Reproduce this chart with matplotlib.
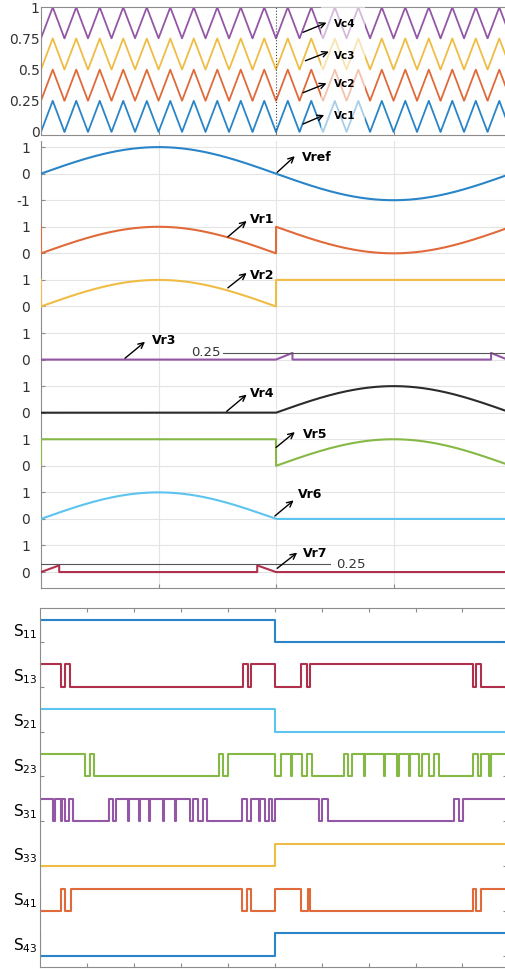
import matplotlib
matplotlib.use('Agg')
import matplotlib.pyplot as plt
import numpy as np

# time axis: one reference period spans 4 units
T_END = 3.957
t = np.linspace(0, T_END, 4000)

# ---- carriers ----
carrier_names = ['Vc1', 'Vc2', 'Vc3', 'Vc4']
carrier_offsets = [0.0, 0.25, 0.5, 0.75]
carrier_height = 0.25
carrier_period = 0.2
carrier_colors = ['#2a85c8', '#e06a3a', '#efbd45', '#9457a6']
carrier_ticks = [0, 0.25, 0.5, 0.75, 1]
carrier_ticklabels = ['0', '0.25', '0.5', '0.75', '1']

# ---- reference signals (value 0..1 each, stacked) ----
ref_names = ['Vref', 'Vr1', 'Vr2', 'Vr3', 'Vr4', 'Vr5', 'Vr6', 'Vr7']
ref_colors = ['#2a85c8', '#e06a3a', '#efbd45', '#9457a6', '#2b2b2b',
              '#86b845', '#5cc4ee', '#b0304c']
ref_base = [15, 12, 10, 8, 6, 4, 2, 0]
ref_yticklabels = ['0', '1', '0', '1', '0', '1', '0', '1', '0',
                   '1', '0', '1', '0', '1', '-1', '0', '1']

# Vr3 / Vr7 are piecewise linear, clipped at 0.25
vr3_t = [0, 2.0, 2.14, 2.14, 3.83, 3.83, 3.957]
vr3_v = [0, 0, 0.25, 0, 0, 0.25, 0.02]
vr7_t = [0, 0.155, 0.155, 1.84, 1.84, 2.0, 3.957]
vr7_v = [0, 0.25, 0, 0, 0.25, 0, 0]

# ---- gate signals: start level and toggle times ----
sw_names = ['11', '13', '21', '23', '31', '33', '41', '43']
sw_colors = ['#2a85c8', '#b0304c', '#5cc4ee', '#86b845', '#9457a6',
             '#efbd45', '#e06a3a', '#2a85c8']
sw_start = [0, 0, 0, 0, 0, 1, 1, 1]
sw_edges = [
    [0.0, 2.0],
    [0.0, 0.183, 0.212, 0.254, 1.726, 1.775, 1.80, 2.0, 2.228, 2.274, 2.302,
     3.691, 3.719, 3.762],
    [0.0, 2.0],
    [0.0, 0.380, 0.423, 0.462, 1.529, 1.563, 1.606, 2.0, 2.057, 2.137, 2.146,
     2.233, 2.276, 2.319, 2.590, 2.627, 2.661, 2.761, 2.770, 2.932, 2.941,
     3.046, 3.055, 3.146, 3.155, 3.231, 3.259, 3.317, 3.360, 3.402, 3.687,
     3.730, 3.759, 3.830, 3.839],
    [0.0, 0.109, 0.129, 0.183, 0.189, 0.214, 0.243, 0.280, 0.586, 0.622,
     0.651, 0.747, 0.756, 0.846, 0.855, 0.932, 0.941, 1.046, 1.055, 1.146,
     1.155, 1.279, 1.307, 1.350, 1.386, 1.421, 1.720, 1.763, 1.800, 1.863,
     1.872, 1.920, 1.954, 1.977, 2.0, 2.379, 2.407, 2.450, 3.528, 3.568,
     3.605],
    [0.0, 2.0],
    [0.0, 0.183, 0.212, 0.26, 1.723, 1.766, 1.794, 2.0, 2.228, 2.28, 2.30,
     3.691, 3.719, 3.762],
    [0.0, 2.0],
]

grey = '#8c8c8c'
label_grey = '#333333'


def pulse_train(edges, start):
    ts, vs = [0.0], [start]
    level = start
    for e in edges:
        ts += [e, e]
        vs += [level, 1 - level]
        level = 1 - level
    ts.append(T_END)
    vs.append(level)
    return np.array(ts), np.array(vs)


def arrow(ax, tail, head, fs, name, text_xy):
    ax.annotate('', xy=head, xytext=tail,
                arrowprops=dict(arrowstyle='->', color='black', lw=1.0,
                                shrinkA=0, shrinkB=0), zorder=6)
    ax.text(text_xy[0], text_xy[1], name, fontsize=fs, fontweight='bold',
            ha='left', va='center', zorder=6)


fig = plt.figure(figsize=(5.06, 9.69), dpi=100)

# ================= carriers =================
ax1 = fig.add_axes([0.0810, 0.8607, 0.9190, 0.1321])
phase = t / carrier_period
tri = 2 * np.abs(phase - np.floor(phase + 0.5))
for off, col in zip(carrier_offsets, carrier_colors):
    ax1.plot(t, off + carrier_height * tri, color=col, lw=1.3)
ax1.axvline(2.0, color='#444444', lw=0.8, ls=':')
ax1.axvspan(2.38, 2.76, color='white', alpha=0.6, lw=0, zorder=3)
ax1.set_xlim(0, T_END)
ax1.set_ylim(-0.024, 1.002)
ax1.set_yticks(carrier_ticks)
ax1.set_yticklabels(carrier_ticklabels)
ax1.set_xticks([1, 2, 3])
ax1.set_xticklabels([])
ax1.tick_params(axis='y', length=0, pad=1, labelsize=10, labelcolor=label_grey)
ax1.tick_params(axis='x', direction='in', length=3, color=grey)
for s in ['left', 'top', 'bottom']:
    ax1.spines[s].set_color(grey)
ax1.spines['right'].set_visible(False)

# label positions (time, value)
vc_tails = [(2.23, 0.064), (2.23, 0.315), (2.25, 0.571), (2.23, 0.799)]
vc_heads = [(2.41, 0.136), (2.43, 0.390), (2.45, 0.644), (2.43, 0.876)]
vc_text = [(2.49, 0.128), (2.49, 0.385), (2.49, 0.612), (2.49, 0.865)]
for name, tl, hd, tx in zip(carrier_names, vc_tails, vc_heads, vc_text):
    arrow(ax1, tl, hd, 7.5, name, tx)

# ================= references =================
ax2 = fig.add_axes([0.0810, 0.3932, 0.9190, 0.4613])
s = np.sin(np.pi * t / 2)
first = t < 2
refs = [
    s,
    np.where(first, s, 1 + s),
    np.where(first, s, 1.0),
    None,
    np.where(first, 0.0, -s),
    np.where(first, 1.0, -s),
    np.where(first, s, 0.0),
    None,
]
for i, (name, col, base) in enumerate(zip(ref_names, ref_colors, ref_base)):
    if name == 'Vr3':
        xs, ys = np.array(vr3_t), np.array(vr3_v)
    elif name == 'Vr7':
        xs, ys = np.array(vr7_t), np.array(vr7_v)
    else:
        xs, ys = t, refs[i]
        if name in ('Vr1', 'Vr2'):
            xs, ys = np.r_[0, xs], np.r_[1, ys]
        elif name == 'Vr5':
            xs, ys = np.r_[0, xs], np.r_[0, ys]
    ax2.plot(xs, base + ys, color=col, lw=1.5, zorder=4)

# 0.25 clip levels
ax2.plot([1.55, T_END], [8.25, 8.25], color='#555555', lw=0.8, zorder=5)
ax2.text(1.525, 8.27, '0.25', fontsize=9.5, ha='right', va='center',
         color=label_grey)
ax2.plot([0.0, 2.46], [0.3, 0.3], color='#555555', lw=0.8, zorder=5)
ax2.text(2.51, 0.3, '0.25', fontsize=9.5, ha='left', va='center',
         color=label_grey)

ax2.set_xlim(0, T_END)
ax2.set_ylim(-0.60, 16.23)
ax2.set_yticks(range(17))
ax2.set_yticklabels(ref_yticklabels)
ax2.set_xticks([1, 2, 3])
ax2.set_xticklabels([])
ax2.grid(True, color='#e4e4e4', lw=0.8)
ax2.set_axisbelow(True)
ax2.tick_params(axis='y', direction='in', length=3, pad=8, labelsize=10,
                labelcolor=label_grey, color=grey)
ax2.tick_params(axis='x', direction='in', length=3, color=grey)
for sp in ['left', 'bottom']:
    ax2.spines[sp].set_color(grey)
ax2.spines['top'].set_visible(False)
ax2.spines['right'].set_visible(False)

vr_tails = [(2.01, 15.05), (1.59, 12.62), (1.59, 10.70), (0.715, 8.05),
            (1.58, 6.05), (2.00, 4.69), (1.99, 2.11), (2.01, 0.14)]
vr_heads = [(2.16, 15.66), (1.75, 13.22), (1.75, 11.26), (0.885, 8.67),
            (1.75, 6.68), (2.16, 5.27), (2.15, 2.70), (2.18, 0.73)]
vr_text = [(2.22, 15.62), (1.78, 13.27), (1.78, 11.16), (0.94, 8.73),
           (1.78, 6.72), (2.23, 5.19), (2.19, 2.91), (2.23, 0.70)]
for name, tl, hd, tx in zip(ref_names, vr_tails, vr_heads, vr_text):
    arrow(ax2, tl, hd, 9, name, tx)

# ================= gate signals =================
ax3 = fig.add_axes([0.0791, 0.0021, 0.9230, 0.3705])
bases = [(len(sw_names) - 1 - k) * 2 for k in range(len(sw_names))]
for name, col, st, edges, base in zip(sw_names, sw_colors, sw_start,
                                      sw_edges, bases):
    ts, vs = pulse_train(edges, st)
    ax3.plot(ts, base + vs, color=col, lw=1.5)
    ax3.text(-0.006, base + 0.24, r'$\mathregular{S_{%s}}$' % name,
             transform=ax3.get_yaxis_transform(), ha='right',
             va='baseline', fontsize=11)
ax3.set_xlim(0, 3.98)
ax3.set_ylim(-0.5, 15.52)
ax3.set_xticks(np.arange(0.4, 3.9, 0.4))
ax3.set_xticklabels([])
ax3.set_yticks(bases)
ax3.set_yticklabels([])
ax3.tick_params(direction='in', length=3, color=grey, top=True, right=True)
for sp in ax3.spines.values():
    sp.set_color(grey)

fig.savefig('out.png', dpi=100)
